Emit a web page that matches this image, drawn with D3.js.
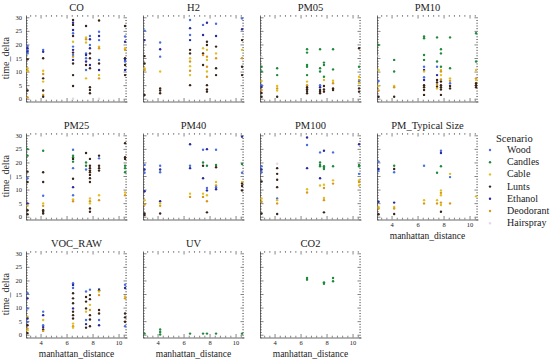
<!DOCTYPE html>
<html><head><meta charset="utf-8">
<script src="https://cdn.jsdelivr.net/npm/d3@7"></script>
<style>
body{margin:0;background:#fff}
svg{display:block}
</style>
</head><body><svg id="c" width="550" height="359"></svg>
<script>
const FONT = "'Liberation Serif','DejaVu Serif',serif";
const scenarios = ["Wood","Candles","Cable","Lunts","Ethanol","Deodorant","Hairspray"];
const colors = ["#4a6fe0","#1f8a3c","#e0c020","#3a2418","#2b2a9e","#d9961e","#e6d6e6"];
const panelNames = ["CO","H2","PM05","PM10","PM25","PM40","PM100","PM_Typical Size","VOC_RAW","UV","CO2"];
const xTicks = [4,6,8,10];
const yTicks = [0,5,10,15,20,25,30];

// [manhattan_distance, time_delta, scenario index]
const CO = [[3,19.4,0],[3,18.6,4],[3,17.9,0],[3,17.3,4],[3,16.7,0],[3,14.5,3],[3,11.2,2],[3,10.3,5],[3,10,2],[3,3,3],[3,0.5,5],
[4.2,18,0],[4.2,17.3,4],[4.2,14.9,3],[4.2,10.3,2],[4.2,9.1,5],[4.2,7.5,3],[4.2,6.3,2],[4.2,3,3],[4.2,1.4,5],[4.2,0.7,3],
[6.5,29,3],[6.5,28,4],[6.5,27.2,3],[6.5,25.3,4],[6.5,24.1,0],[6.5,23.1,3],[6.5,21,2],[6.5,19.2,0],[6.5,18,4],[6.5,17,3],[6.5,16.1,0],[6.5,15.5,5],[6.5,14.3,4],[6.5,13,3],[6.5,8.7,3],[6.5,4.7,3],[6.5,0,6],
[7.5,26.8,3],[7.5,22.6,2],[7.5,21.9,5],[7.5,20.7,2],[7.5,16.7,0],[7.5,16.1,4],[7.5,14.9,0],[7.5,13.7,4],[7.5,12.4,3],[7.5,10.6,0],[7.5,7.5,2],
[7.8,23.1,0],[7.8,21.9,4],[7.8,19.8,0],[7.8,18.6,4],[7.8,16.7,3],[7.8,14.9,3],[7.8,12.4,4],[7.8,11.2,3],[7.8,4.2,3],[7.8,3.2,3],[7.8,2,3],
[8.5,28.8,3],[8.5,24.7,0],[8.5,23.1,4],[8.5,21.6,0],[8.5,19.2,2],[8.5,18.6,5],[8.5,14.3,0],[8.5,13,3],[8.5,10.6,4],[8.5,8.7,2],[8.5,7.5,5],[8.5,0,6],
[10.5,26.8,3],[10.5,22.9,0],[10.5,21,4],[10.5,18.6,2],[10.5,18,5],[10.5,14.9,3],[10.5,14.3,4],[10.5,13.7,0],[10.5,12.4,3],[10.5,10.6,4],[10.5,8.7,3]];

const H2 = [[3,25.1,0],[3,21.6,4],[3,15.7,3],[3,13,3],[3,11.2,2],[3,10.6,5],[3,1.4,3],
[4.2,20.7,0],[4.2,18.2,4],[4.2,15.5,0],[4.2,10,2],[4.2,3.8,3],[4.2,3,3],[4.2,2,3],
[6.5,29,0],[6.5,26,4],[6.5,23.5,0],[6.5,21.6,4],[6.5,18,3],[6.5,16.7,3],[6.5,14.9,2],[6.5,13.7,5],[6.5,12,2],[6.5,10.3,5],[6.5,8.7,2],[6.5,5,3],
[7.5,27.2,0],[7.5,23.5,4],[7.5,18.6,2],[7.5,16.7,3],[7.5,16.1,5],[7.5,12.4,3],
[7.8,28,4],[7.8,21,3],[7.8,19.8,3],[7.8,18,2],[7.8,15.5,5],[7.8,14.3,2],[7.8,11.8,5],[7.8,10,2],[7.8,8.1,5],[7.8,5,3],[7.8,3.4,3],[7.8,2.6,3],
[8.5,27.6,0],[8.5,23.1,4],[8.5,19.2,3],[8.5,16.7,2],[8.5,14.9,5],[8.5,11.2,3],[8.5,8.7,3],
[10.5,29.6,0],[10.5,25.6,4],[10.5,21.6,3],[10.5,18,2],[10.5,14.9,5],[10.5,11.8,3],[10.5,8.7,3]];

const PM05 = [[3,15.5,6],[3,11.8,1],[3,10,1],[3,6.5,2],[3,5,0],[3,4.3,4],[3,3.2,5],[3,2.1,3],[3,0.7,3],
[4.2,11.2,1],[4.2,8.7,1],[4.2,4.7,2],[4.2,3.8,5],[4.2,3,2],[4.2,0.7,3],
[6.5,18.2,1],[6.5,17,1],[6.5,12.4,1],[6.5,11.8,1],[6.5,8.7,1],[6.5,6.3,2],[6.5,5,5],[6.5,4.2,3],[6.5,3.5,3],[6.5,2.8,3],[6.5,2,3],
[7.5,18.2,1],[7.5,11.2,1],[7.5,10,1],[7.5,5,0],[7.5,4.2,4],[7.5,3.2,3],[7.5,2.6,3],[7.5,2,3],
[7.8,13.3,1],[7.8,12.4,1],[7.8,8.1,1],[7.8,6.9,2],[7.8,4.7,3],[7.8,3.4,3],[7.8,2.6,3],
[8.5,18.2,1],[8.5,10.8,1],[8.5,6.6,2],[8.5,5.7,5],[8.5,3.8,3],[8.5,3.2,3],
[10.5,18.6,3],[10.5,11.8,1],[10.5,8.1,2],[10.5,6.9,5],[10.5,6.3,0],[10.5,5.7,2],[10.5,3.8,3],[10.5,2.6,3]];

const PM10 = [[3,19.8,1],[3,15.7,6],[3,10.6,2],[3,6.5,0],[3,4.7,2],[3,3,5],[3,0.7,3],
[4.2,14.3,1],[4.2,10,1],[4.2,4.7,2],[4.2,4.2,5],[4.2,0.7,3],
[6.5,22.9,1],[6.5,22.3,1],[6.5,16.1,1],[6.5,14.3,1],[6.5,11.8,0],[6.5,10.6,4],[6.5,10,2],[6.5,7.9,0],[6.5,6.9,4],[6.5,5,3],[6.5,4.2,3],[6.5,3.2,3],[6.5,1.4,3],
[7.5,22.6,1],[7.5,13.7,1],[7.5,11.8,0],[7.5,8.7,4],[7.5,6.9,3],[7.5,6,3],[7.5,5.2,5],[7.5,4.4,3],[7.5,3.8,2],
[7.8,18.2,1],[7.8,16.7,1],[7.8,11.8,1],[7.8,10.6,2],[7.8,10,5],[7.8,8.7,2],[7.8,7.1,5],[7.8,6.3,3],[7.8,5,3],[7.8,4.2,3],[7.8,3.4,3],[7.8,1.4,3],
[8.5,22.6,1],[8.5,11.2,1],[8.5,7.5,2],[8.5,6.6,5],[8.5,5.7,0],[8.5,4.7,3],[8.5,3.8,3],
[10.5,24.1,1],[10.5,13.7,1],[10.5,10.6,2],[10.5,7.5,5],[10.5,6.9,2],[10.5,5.7,3],[10.5,5,3],[10.5,4.2,3]];

const PM25 = [[3,24.9,1],[3,22.5,1],[3,16.6,3],[3,14.2,0],[3,12.8,3],[3,4.9,4],[3,4,2],[3,2.4,3],[3,0.9,3],
[4.2,24.3,1],[4.2,16.4,3],[4.2,12.8,3],[4.2,7.7,0],[4.2,4.9,2],[4.2,4,5],[4.2,2.4,3],[4.2,1.8,3],[4.2,1.2,3],
[6.5,24.7,0],[6.5,22.5,1],[6.5,21.9,1],[6.5,21.3,3],[6.5,20.3,1],[6.5,17.9,0],[6.5,14,3],[6.5,10.9,4],[6.5,7.9,0],[6.5,6.4,2],[6.5,5.7,5],
[7.5,23.5,3],[7.5,20,1],[7.5,18.8,1],[7.5,17.4,0],
[7.8,21.3,3],[7.8,18.8,3],[7.8,17.9,3],[7.8,17,3],[7.8,16.4,3],[7.8,15.4,3],[7.8,14.2,3],[7.8,12.8,3],[7.8,6.7,2],[7.8,5.7,5],[7.8,4.9,2],[7.8,3,3],[7.8,1.8,3],
[8.5,22.5,3],[8.5,21.5,0],[8.5,18.8,3],[8.5,17.9,3],[8.5,17,3],[8.5,7.9,2],[8.5,6.1,5],
[10.5,27.1,3],[10.5,21.9,3],[10.5,21.3,3],[10.5,18.8,1],[10.5,17.9,1],[10.5,16.4,1],[10.5,8.9,2],[10.5,7.9,5]];

const PM40 = [[3,19.1,0],[3,17.4,4],[3,16.2,0],[3,9.4,4],[3,6.1,2],[3,4.5,5],[3,1.2,3],[3,0.6,3],
[4.2,18.8,0],[4.2,17.4,4],[4.2,16.4,0],[4.2,5.7,4],[4.2,4.9,2],[4.2,4,5],[4.2,1.2,3],
[6.5,26.7,4],[6.5,18.8,0],[6.5,17.9,4],[6.5,8.5,2],[6.5,7.3,5],
[7.5,24.7,0],[7.5,20,1],[7.5,18.8,3],[7.5,14.2,4],[7.5,8.5,2],[7.5,7.3,5],
[7.8,24.9,4],[7.8,18.8,1],[7.8,10.6,0],[7.8,9.7,4],[7.8,7.9,2],[7.8,5.7,5],[7.8,1.6,3],
[8.5,24.7,0],[8.5,19.1,1],[8.5,18.2,3],[8.5,12.8,2],[8.5,11.5,5],[8.5,10.9,0],[8.5,10.1,4],
[10.5,29.5,4],[10.5,19.4,1],[10.5,16.2,0],[10.5,12.8,2],[10.5,12.2,3],[10.5,11.3,3],[10.5,9.7,3]];

const PM100 = [[3,18.6,0],[3,17.4,4],[3,16.4,0],[3,13,3],[3,6.7,2],[3,5.5,5],[3,1.2,3],
[4.2,19.5,6],[4.2,17.9,3],[4.2,15.8,3],[4.2,13.6,3],[4.2,10.9,3],[4.2,6.7,0],[4.2,6.1,2],[4.2,4.9,5],[4.2,1,3],
[6.5,29.2,4],[6.5,26.4,0],[6.5,17.9,4],[6.5,10.1,2],[6.5,8.9,5],
[7.5,23.7,0],[7.5,20,1],[7.5,19.1,1],[7.5,18.6,1],[7.5,14.2,4],[7.5,11.5,2],
[7.8,24.3,4],[7.8,18.6,1],[7.8,18,1],[7.8,17.6,1],[7.8,11.8,2],[7.8,10.6,5],[7.8,6.9,2],[7.8,6.1,5],[7.8,1.6,3],
[8.5,23.7,0],[8.5,18.6,1],[8.5,13.4,2],[8.5,12.2,5],
[10.5,26.7,4],[10.5,19.1,1],[10.5,18.6,1],[10.5,15.8,0],[10.5,13.4,2],[10.5,12.8,5],[10.5,11.5,2]];

const PMTS = [[3,20.3,0],[3,17.6,4],[3,16.8,0],[3,5.5,4],[3,3.6,2],[3,3,5],[3,0.9,3],
[4.2,18.8,1],[4.2,17.6,3],[4.2,16.4,0],[4.2,5.2,4],[4.2,3.6,2],[4.2,3,5],[4.2,1,3],
[6.5,18.8,0],[6.5,6.1,2],[6.5,4.9,5],
[7.5,16.2,1],[7.5,6.1,2],[7.5,4.9,5],
[7.8,24.3,0],[7.8,23.5,4],[7.8,18.6,1],[7.8,9.7,2],[7.8,8.8,5],[7.8,7.9,2],[7.8,5.2,5],[7.8,4.3,2],[7.8,1.8,3],
[8.5,15.8,2],[8.5,14.6,0],[8.5,4.9,5],
[10.5,7.5,2]];

const VOC_RAW = [[3,15.3,0],[3,13.4,4],[3,9.7,0],[3,6.6,2],[3,6,4],[3,4.7,0],[3,3.5,3],[3,2.2,5],[3,1.6,2],[3,0.6,3],
[4.2,8.5,0],[4.2,7.2,4],[4.2,5.4,2],[4.2,3.5,0],[4.2,2.8,4],[4.2,1.9,3],[4.2,1.4,5],
[6.5,19,0],[6.5,18.3,4],[6.5,17.2,0],[6.5,15.3,3],[6.5,13.4,3],[6.5,11.6,3],[6.5,9.7,4],[6.5,8.5,3],[6.5,7.2,3],[6.5,6,3],[6.5,4.1,2],[6.5,3.1,5],[6.5,2.6,2],
[7.5,15.9,0],[7.5,13.9,3],[7.5,12.2,3],[7.5,9.7,3],[7.5,8.5,2],[7.5,5.4,0],[7.5,3.9,4],[7.5,2.6,3],
[7.8,16.6,0],[7.8,14.6,3],[7.8,13.1,3],[7.8,11,2],[7.8,9.1,5],[7.8,7.2,3],[7.8,5.6,3],[7.8,3.1,3],
[8.5,16.8,0],[8.5,16.4,3],[8.5,15.9,2],[8.5,14.6,5],[8.5,9.1,3],[8.5,7.8,3],[8.5,5.4,0],[8.5,3.5,4],
[10.5,18.4,0],[10.5,17.2,4],[10.5,14.1,2],[10.5,13.4,5],[10.5,7.8,3],[10.5,6.4,3],[10.5,4.8,3],[10.5,3.1,0]];

const UV = [[3,0.4,1],[4.2,1.9,1],[4.2,1,1],[4.2,0.1,1],[6.5,0.4,1],[7.5,0.4,1],[7.8,0.4,1],[8.5,0.4,1],[10.5,0.4,1]];

const CO2 = [[6.5,20.9,1],[6.5,20.3,1],[7.8,19.3,1],[7.8,18.8,1],[8.5,20.9,1],[8.5,19.7,1]];

const panelData = [CO,H2,PM05,PM10,PM25,PM40,PM100,PMTS,VOC_RAW,UV,CO2];

const svg = d3.select('#c').attr('font-family',FONT);
const W = 101, H = 86.5;
const colX = [26,143,260,377];
const rowY = [15,133,251];
const x = d3.scaleLinear().domain([2.88,10.65]).range([0,W]);
const y = d3.scaleLinear().domain([-1.03,30.85]).range([H,0]);
const xMinor = d3.range(2.8,10.7,0.4).map(v=>+v.toFixed(2)).filter(v=>v>=2.88&&v<=10.65&&!xTicks.some(t=>Math.abs(t-v)<1e-6));
const yMinor = d3.range(-1,31,1).filter(v=>v>=-1.03&&v<=30.85&&v%5!==0);
const tickCol = "#333";

function styleAxis(g, keepDomain){
  g.attr('font-family',FONT);
  g.selectAll('.tick line').attr('stroke',tickCol).attr('stroke-width',0.6);
  if(!keepDomain) g.select('.domain').remove();
  else g.select('.domain').attr('stroke','#444').attr('stroke-width',0.8);
  g.selectAll('.tick text').attr('font-size',6.5).attr('fill','#222').attr('font-family',FONT);
}

panelNames.forEach((name,i)=>{
  const col = i%4, row = Math.floor(i/4);
  const g = svg.append('g').attr('transform',`translate(${colX[col]},${rowY[row]})`);
  const showY = col===0;
  const showX = row===2 || (row===1 && col===3);

  g.append('g').call(d3.axisLeft(y).tickValues(yMinor).tickSizeInner(-1.8).tickSizeOuter(0).tickFormat('')).call(a=>styleAxis(a,false));
  g.append('g').attr('transform',`translate(${W},0)`).call(d3.axisRight(y).tickValues(yMinor).tickSizeInner(-1.8).tickSizeOuter(0).tickFormat('')).call(a=>styleAxis(a,false));
  g.append('g').call(d3.axisTop(x).tickValues(xMinor).tickSizeInner(-1.8).tickSizeOuter(0).tickFormat('')).call(a=>styleAxis(a,false));
  g.append('g').attr('transform',`translate(0,${H})`).call(d3.axisBottom(x).tickValues(xMinor).tickSizeInner(-1.8).tickSizeOuter(0).tickFormat('')).call(a=>styleAxis(a,false));
  g.append('g').attr('transform',`translate(${W},0)`).call(d3.axisRight(y).tickValues(yTicks).tickSizeInner(-3.5).tickSizeOuter(0).tickFormat('')).call(a=>styleAxis(a,false));
  g.append('g').call(d3.axisTop(x).tickValues(xTicks).tickSizeInner(-3.5).tickSizeOuter(0).tickFormat('')).call(a=>styleAxis(a,false));
  g.append('g').call(d3.axisLeft(y).tickValues(yTicks).tickSizeInner(-3.5).tickSizeOuter(0).tickPadding(4).tickFormat(showY?d3.format('d'):'')).call(a=>styleAxis(a,true));
  g.append('g').attr('transform',`translate(0,${H})`).call(d3.axisBottom(x).tickValues(xTicks).tickSizeInner(-3.5).tickSizeOuter(0).tickPadding(2.5).tickFormat(showX?d3.format('d'):'')).call(a=>styleAxis(a,true));

  g.append('text').attr('x',W/2).attr('y',-4).attr('text-anchor','middle').attr('font-size',10.5).attr('fill','#222').text(name);
  if(showY) g.append('text').attr('transform',`translate(-17,${H/2}) rotate(-90)`).attr('text-anchor','middle').attr('font-size',10).attr('fill','#222').text('time_delta');
  if(showX) g.append('text').attr('x',W/2).attr('y',H+19.5).attr('text-anchor','middle').attr('font-size',9.5).attr('fill','#222').text('manhattan_distance');

  g.append('g').selectAll('circle').data(panelData[i]).join('circle')
    .attr('cx',d=>x(d[0])).attr('cy',d=>y(d[1])).attr('r',1.2)
    .attr('fill',d=>colors[d[2]]);
});

const lg = svg.append('g').attr('transform','translate(496,139)');
lg.append('text').attr('x',0).attr('y',3).attr('font-size',10.5).attr('fill','#222').text('Scenario');
scenarios.forEach((s,i)=>{
  const yy = 11 + i*12.2;
  lg.append('circle').attr('cx',-6).attr('cy',yy).attr('r',1.2).attr('fill',colors[i]);
  lg.append('text').attr('x',11).attr('y',yy+3).attr('font-size',10).attr('fill','#222').text(s);
});
</script></body></html>
